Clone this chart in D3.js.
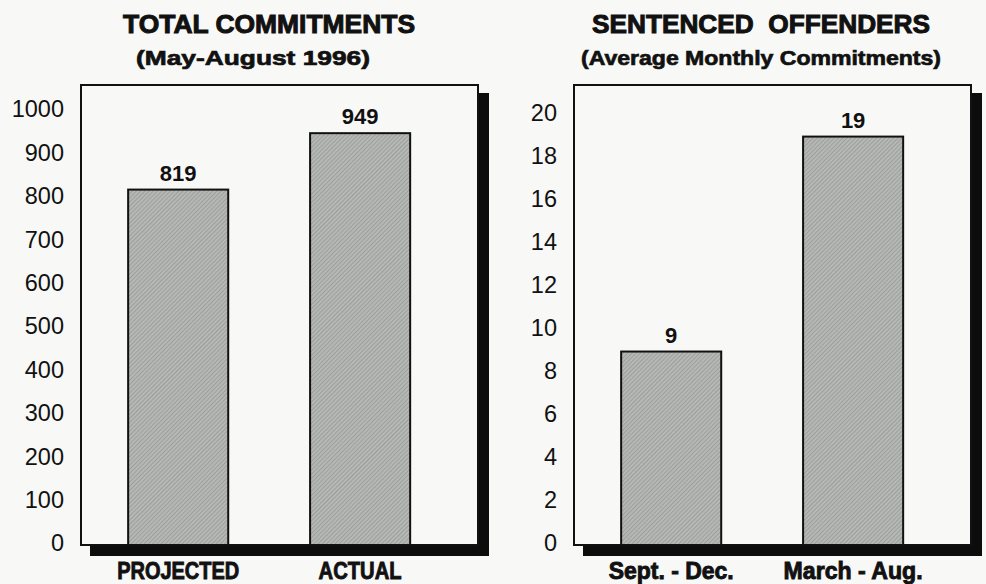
<!DOCTYPE html>
<html>
<head>
<meta charset="utf-8">
<script src="https://cdn.jsdelivr.net/npm/d3@7"></script>
<style>
  html, body { margin: 0; padding: 0; background: #f8f8f6; }
  svg { display: block; }
</style>
</head>
<body>
<div id="chart"></div>
<script>
///data
const leftCategories = ["PROJECTED", "ACTUAL"];
const leftValues = [819, 949];
const leftTicks = [0, 100, 200, 300, 400, 500, 600, 700, 800, 900, 1000];
const leftTitle = "TOTAL COMMITMENTS";
const leftSubtitle = "(May-August 1996)";

const rightCategories = ["Sept. - Dec.", "March - Aug."];
const rightValues = [9, 19];
const rightTicks = [0, 2, 4, 6, 8, 10, 12, 14, 16, 18, 20];
const rightTitle = "SENTENCED  OFFENDERS";
const rightSubtitle = "(Average Monthly Commitments)";

///vars
let w = 986,
  h = 584;
const ink = "#111";
const bg = "#f8f8f6";

let svg = d3.select("#chart").
append("svg").
attr("width", w).
attr("height", h);

///hatch
let defs = svg.append("defs");
let pat = defs.append("pattern").
attr("id", "hatch").
attr("patternUnits", "userSpaceOnUse").
attr("width", 3).
attr("height", 3).
attr("patternTransform", "rotate(45)");
pat.append("rect").attr("width", 3).attr("height", 3).attr("fill", "#b6b8b5");
pat.append("line").
attr("x1", 0).attr("y1", 0).attr("x2", 0).attr("y2", 3).
attr("stroke", "#8c8f8c").attr("stroke-width", 1.2);

function drawPanel(cfg) {
  const top = 85, bottom = 545, bw = 397;
  const x0 = cfg.x0;
  let g = svg.append("g");

  ///shadow + box
  g.append("rect").
  attr("x", x0 + 9).attr("y", top + 8).
  attr("width", bw + 2).attr("height", bottom - top + 3).
  attr("fill", "#0c0c0c");
  g.append("rect").
  attr("x", x0).attr("y", top).
  attr("width", bw).attr("height", bottom - top).
  attr("fill", bg).attr("stroke", ink).attr("stroke-width", 2);

  ///scales
  let x = d3.scaleBand().
  domain(cfg.cats).
  range([x0, x0 + bw]).
  paddingInner(0.45).
  paddingOuter(0.316).
  align(0.41);
  let y = d3.scaleLinear().domain([0, cfg.max]).range([bottom, top]);

  ///axis
  let ax = g.append("g").
  attr("transform", "translate(" + x0 + ",0)").
  call(d3.axisLeft(y).tickValues(cfg.ticks).tickFormat(d3.format("d")).tickSize(0).tickPadding(17));
  ax.select(".domain").remove();
  ax.selectAll("text").
  attr("fill", ink).
  attr("dy", "0.25em").
  style("font-family", "'Liberation Sans', Arial, sans-serif").
  style("font-size", "23.5px");

  ///bars
  g.selectAll(".bar").
  data(cfg.vals).
  join("rect").
  attr("class", "bar").
  attr("x", (d, i) => x(cfg.cats[i])).
  attr("width", x.bandwidth()).
  attr("y", d => y(d)).
  attr("height", d => bottom - y(d)).
  attr("fill", "url(#hatch)").
  attr("stroke", ink).
  attr("stroke-width", 2);

  ///value labels
  g.selectAll(".val").
  data(cfg.vals).
  join("text").
  attr("class", "val").
  attr("x", (d, i) => x(cfg.cats[i]) + x.bandwidth() / 2).
  attr("y", d => y(d) - 9).
  attr("text-anchor", "middle").
  attr("fill", ink).
  style("font-family", "'Liberation Sans', Arial, sans-serif").
  style("font-weight", "bold").
  style("font-size", "22px").
  text(d => d);

  ///category labels (condensed heavy face, squeezed to the printed widths)
  g.selectAll(".cat").
  data(cfg.cats).
  join("text").
  attr("class", "cat").
  attr("x", d => x(d) + x.bandwidth() / 2).
  attr("y", 579).
  attr("text-anchor", "middle").
  attr("fill", ink).
  attr("stroke", ink).
  attr("stroke-width", 0.9).
  style("font-family", "'Liberation Sans', Arial, sans-serif").
  style("font-weight", "bold").
  style("font-size", "24px").
  attr("textLength", (d, i) => cfg.catW[i]).
  attr("lengthAdjust", "spacingAndGlyphs").
  text(d => d);

  ///titles
  g.append("text").
  attr("x", cfg.titleX).attr("y", 33).
  attr("text-anchor", "middle").
  attr("fill", ink).attr("stroke", ink).attr("stroke-width", 1).
  style("font-family", "'Liberation Sans', Arial, sans-serif").
  style("font-weight", "bold").
  style("font-size", "26px").
  style("white-space", "pre").
  attr("textLength", cfg.titleW).
  attr("lengthAdjust", "spacingAndGlyphs").
  text(cfg.title);
  g.append("text").
  attr("x", cfg.subX).attr("y", 65).
  attr("text-anchor", "middle").
  attr("fill", ink).attr("stroke", ink).attr("stroke-width", 0.7).
  style("font-family", "'Liberation Sans', Arial, sans-serif").
  style("font-weight", "bold").
  style("font-size", "21px").
  attr("textLength", cfg.subW).
  attr("lengthAdjust", "spacingAndGlyphs").
  text(cfg.subtitle);
}

drawPanel({
  x0: 81, cats: leftCategories, vals: leftValues, ticks: leftTicks, max: 1060,
  title: leftTitle, subtitle: leftSubtitle,
  titleX: 269, titleW: 292, subX: 253, subW: 234, catW: [122, 83]
});
drawPanel({
  x0: 574, cats: rightCategories, vals: rightValues, ticks: rightTicks, max: 21.4,
  title: rightTitle, subtitle: rightSubtitle,
  titleX: 761, titleW: 338, subX: 761, subW: 360, catW: [125, 139]
});
</script>
</body>
</html>
